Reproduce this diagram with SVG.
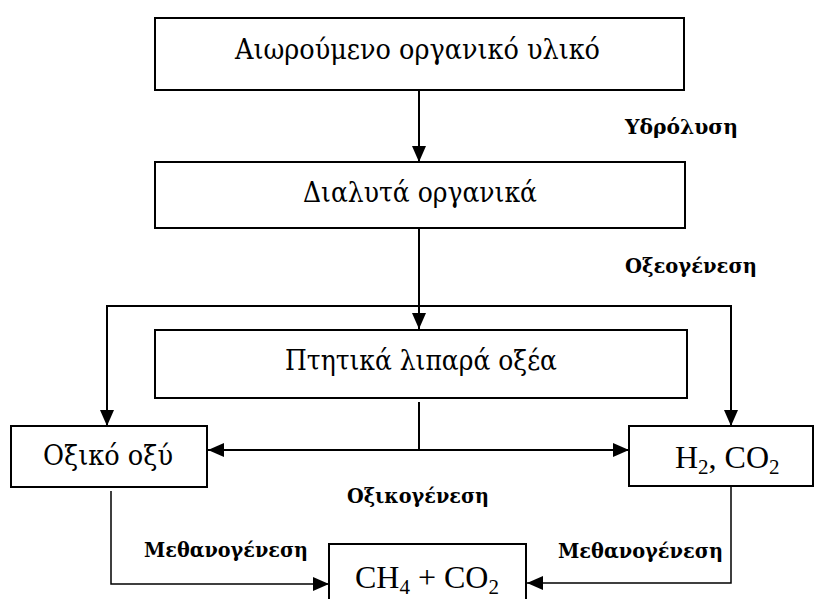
<svg xmlns="http://www.w3.org/2000/svg" width="814" height="599" viewBox="0 0 814 599">
<style>
.box{fill:#fff;stroke:#000;stroke-width:2}
.t{font-family:"DejaVu Serif","Liberation Serif",serif;font-size:28px;fill:#000}
.f{font-family:"Liberation Serif","Times New Roman",serif;font-size:32px;fill:#000}
.sub{font-size:21px}
.lbl{font-family:"DejaVu Serif","Liberation Serif",serif;font-size:20px;font-weight:bold;fill:#000}
.c{fill:none;stroke:#000;stroke-width:2}
.c1{fill:none;stroke:#000;stroke-width:1.5}
</style>
<defs>
<marker id="ah" markerUnits="userSpaceOnUse" markerWidth="16" markerHeight="16" viewBox="0 0 16 16" refX="16" refY="8" orient="auto">
<path d="M0,1 L16,8 L0,15 Z" fill="#000"/>
</marker>
</defs>
<rect width="814" height="599" fill="#fff"/>
<g id="connectors">
<line class="c" x1="419" y1="90" x2="419" y2="162" marker-end="url(#ah)"/>
<line class="c" x1="419" y1="228" x2="419" y2="329" marker-end="url(#ah)"/>
<polyline class="c" points="419,306 107,306 107,426" marker-end="url(#ah)"/>
<polyline class="c" points="419,306 731,306 731,426" marker-end="url(#ah)"/>
<line class="c" x1="419" y1="402" x2="419" y2="450"/>
<line class="c" x1="419" y1="450" x2="208" y2="450" marker-end="url(#ah)"/>
<line class="c" x1="419" y1="450" x2="629" y2="450" marker-end="url(#ah)"/>
<polyline class="c1" points="111,491 111,584 329,584" marker-end="url(#ah)"/>
<polyline class="c1" points="731,486 731,583 527,583" marker-end="url(#ah)"/>
</g>
<g id="n1"><rect class="box" x="155" y="18" width="529" height="72"/><text class="t" x="235" y="59" textLength="365" lengthAdjust="spacingAndGlyphs">Αιωρούμενο οργανικό υλικό</text></g>
<g id="n2"><rect class="box" x="155" y="162" width="530" height="66"/><text class="t" x="303" y="202" textLength="234" lengthAdjust="spacingAndGlyphs">Διαλυτά οργανικά</text></g>
<g id="n3"><rect class="box" x="155" y="330" width="532" height="68"/><text class="t" x="285" y="370" textLength="272" lengthAdjust="spacingAndGlyphs">Πτητικά λιπαρά οξέα</text></g>
<g id="n4"><rect class="box" x="11" y="426" width="196" height="61"/><text class="t" x="43" y="465" textLength="130" lengthAdjust="spacingAndGlyphs">Οξικό οξύ</text></g>
<g id="n5"><rect class="box" x="629" y="426" width="184" height="60"/><text class="f" x="675" y="468">H<tspan class="sub" dy="6">2</tspan><tspan dy="-6">, CO</tspan><tspan class="sub" dy="6">2</tspan></text></g>
<g id="n6"><rect class="box" x="329" y="544" width="197" height="70"/><text class="f" x="355" y="588">CH<tspan class="sub" dy="6">4</tspan><tspan dy="-6"> + CO</tspan><tspan class="sub" dy="6">2</tspan></text></g>
<g id="labels">
<text class="lbl" x="625" y="134" textLength="113" lengthAdjust="spacingAndGlyphs">Υδρόλυση</text>
<text class="lbl" x="625" y="273" textLength="132" lengthAdjust="spacingAndGlyphs">Οξεογένεση</text>
<text class="lbl" x="347" y="503" textLength="142" lengthAdjust="spacingAndGlyphs">Οξικογένεση</text>
<text class="lbl" x="144" y="557" textLength="164" lengthAdjust="spacingAndGlyphs">Μεθανογένεση</text>
<text class="lbl" x="558" y="558" textLength="165" lengthAdjust="spacingAndGlyphs">Μεθανογένεση</text>
</g>
</svg>
